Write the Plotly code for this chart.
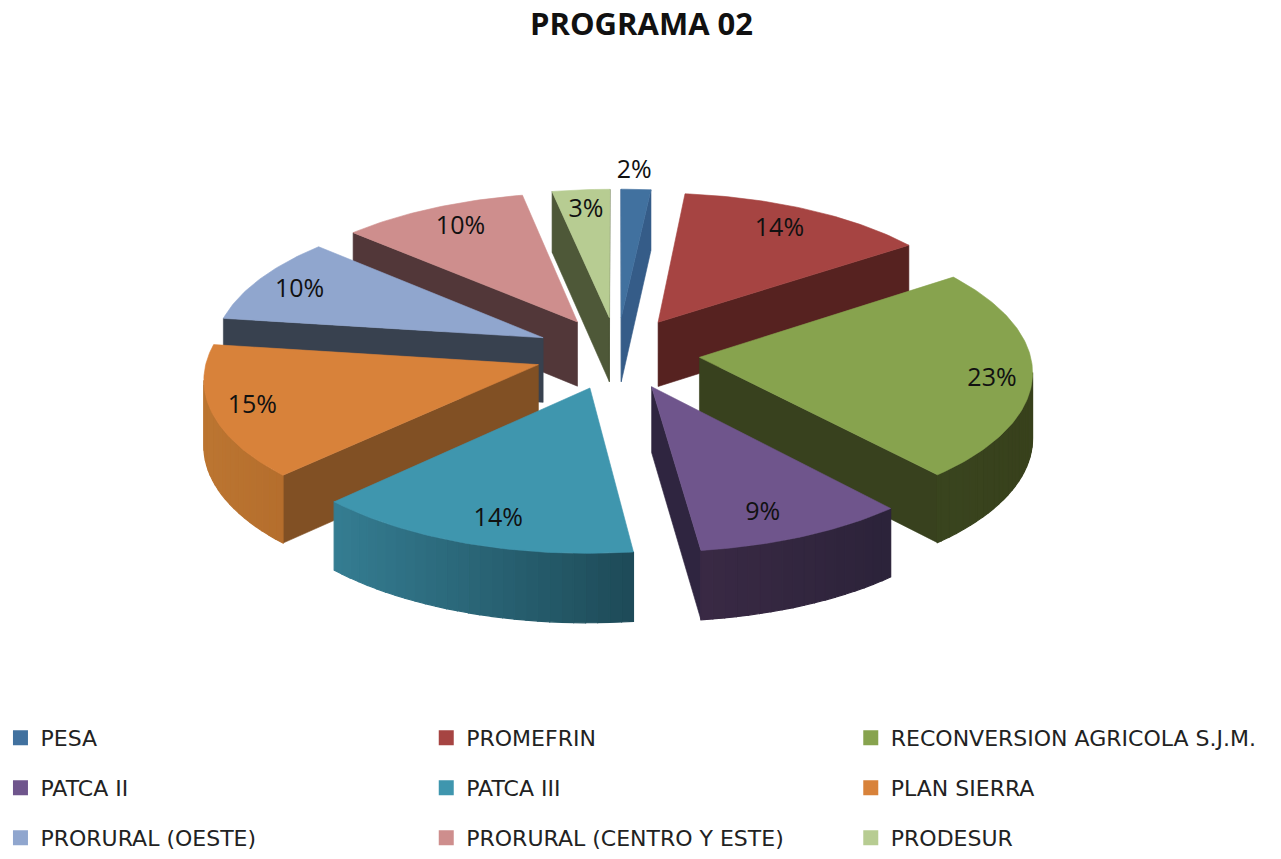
import numpy as np
import plotly.graph_objects as go

# ---- data (unrounded shares; labels show them rounded) ----
categories = ["PESA", "PROMEFRIN", "RECONVERSION AGRICOLA S.J.M.", "PATCA II", "PATCA III",
              "PLAN SIERRA", "PRORURAL (OESTE)", "PRORURAL (CENTRO Y ESTE)", "PRODESUR"]
values = [1.6, 13.6, 23.4, 9.4, 14.49, 14.7, 9.6, 10.1, 3.1]
top_colors = ["#41719F", "#A64442", "#87A34E", "#6F558C", "#3F96AE",
              "#D8823A", "#90A6CE", "#CE8E8D", "#B7CC92"]
face_colors = ["#355C88", "#562220", "#38411E", "#2F2540", "#225563",
               "#815024", "#38414F", "#523739", "#4E5838"]
wall_left = ["#355C88", "#562220", "#3A451F", "#3A2A45", "#357D92",
             "#BC7632", "#38414F", "#523739", "#4E5838"]
wall_right = ["#355C88", "#562220", "#38411C", "#2C233A", "#1E4B58",
              "#B56E2D", "#38414F", "#523739", "#4E5838"]
title = "PROGRAMA 02"

# ---- projection of the exploded pie ----
CX, CY = 612, 353
RX, RY = 333, 145
PERSP = 0.085
PULL = 0.25
DEPTH = 65
LABEL_R = [1.02, 0.80, 0.90, 0.72, 0.66, 0.90, 0.78, 0.80, 0.70]
LABEL_NUDGE = [(-2, -15), (0, -1), (-7, 7), (4, 22), (-14, 32), (7, -1), (-21, -1), (1, -2), (-3, -15)]
DRAW_ORDER = [0, 8, 7, 1, 6, 2, 5, 3, 4]
FONT = "Open Sans, Lato, sans-serif"


def project(u, v, drop=0.0):
    s = 1.0 / (1 + PERSP * v)
    return CX + RX * u * s, CY - RY * v * s + drop * (1 - 0.055 * v)


def rgb(hexs):
    return np.array([int(hexs[i:i + 2], 16) for i in (1, 3, 5)], float)


def mix(a, b, t):
    c = rgb(a) * (1 - t) + rgb(b) * t
    return "rgb(%d,%d,%d)" % tuple(c)


total = sum(values)
edges = np.concatenate([[0], np.cumsum(values)]) / total * 2 * np.pi

fig = go.Figure()


def poly(xs, ys, color, name=None, width=0.6):
    fig.add_trace(go.Scatter(x=list(xs), y=list(ys), mode="lines", fill="toself",
                             fillcolor=color, line=dict(color=color, width=width),
                             hoverinfo="skip" if name is None else "text",
                             text=name, showlegend=False))


for i in DRAW_ORDER:
    a0, a1 = edges[i], edges[i + 1]
    mid = (a0 + a1) / 2
    pu, pv = PULL * np.sin(mid), PULL * np.cos(mid)
    th = np.linspace(a0, a1, max(int(values[i] * 4), 8))
    au, av = pu + np.sin(th), pv + np.cos(th)
    tx, ty = project(pu, pv)
    tbx, tby = project(pu, pv, DEPTH)
    ax, ay = project(au, av)
    bx, by = project(au, av, DEPTH)

    # tip -> arc start face, visible when it runs to the left
    if ax[0] < tx:
        poly([tx, ax[0], bx[0], tbx, tx], [ty, ay[0], by[0], tby, ty], face_colors[i])
    # arc end -> tip face
    if tx < ax[-1]:
        poly([tx, ax[-1], bx[-1], tbx, tx], [ty, ay[-1], by[-1], tby, ty], face_colors[i])
    # outer wall, in shaded bands running left to right
    vis = [k for k in range(len(th) - 1) if ax[k + 1] < ax[k]]
    if len(vis) > 1:
        vis = vis + [vis[-1] + 1]
        lo, hi = ax[vis].min(), ax[vis].max()
        for j in range(0, len(vis) - 1, 2):
            k = vis[j:j + 3]
            t = (ax[k].mean() - lo) / max(hi - lo, 1)
            c = mix(wall_left[i], wall_right[i], t)
            poly(np.r_[ax[k], bx[k][::-1], ax[k][0]], np.r_[ay[k], by[k][::-1], ay[k][0]], c, width=1.2)
    # top surface
    poly(np.r_[tx, ax, tx], np.r_[ty, ay, ty], top_colors[i],
         f"{categories[i]}: {values[i]:.0f}%")

# percentage labels
lab_x, lab_y, lab_t = [], [], []
for i in range(len(values)):
    mid = (edges[i] + edges[i + 1]) / 2
    r = LABEL_R[i] + PULL
    lx, ly = project(r * np.sin(mid), r * np.cos(mid))
    lab_x.append(lx + LABEL_NUDGE[i][0])
    lab_y.append(ly + LABEL_NUDGE[i][1])
    lab_t.append(f"{values[i]:.0f}%")
fig.add_trace(go.Scatter(x=lab_x, y=lab_y, mode="text", text=lab_t, showlegend=False,
                         hoverinfo="skip",
                         textfont=dict(family=FONT, size=25, color="#111111")))

# legend: one Plotly legend per cell of the 3 x 3 grid
legend_names = ["legend"] + [f"legend{n}" for n in range(2, 10)]
COL_X = [-0.0075, 0.3275, 0.6615]
ROW_Y = [738, 788, 838]
LEG_FONT = dict(family="DejaVu Sans, Open Sans, sans-serif", size=22, color="#222222")
legends = {}
for i, (cat, col) in enumerate(zip(categories, top_colors)):
    fig.add_trace(go.Scatter(x=[None], y=[None], mode="markers", name=cat,
                             marker=dict(symbol="square", size=15, color=col),
                             legend=legend_names[i]))
    legends[legend_names[i]] = dict(
        x=COL_X[i % 3], xanchor="left", y=1 - ROW_Y[i // 3] / 859, yanchor="middle",
        itemwidth=30, font=LEG_FONT, bgcolor="rgba(0,0,0,0)",
        itemclick=False, itemdoubleclick=False)

fig.update_layout(
    width=1281, height=859, autosize=False,
    margin=dict(l=0, r=0, t=0, b=0),
    paper_bgcolor="white", plot_bgcolor="white",
    xaxis=dict(range=[0, 1281], visible=False, fixedrange=True),
    yaxis=dict(range=[859, 0], visible=False, fixedrange=True),
    annotations=[dict(text="<b>" + title + "</b>", x=636, y=23, xref="x", yref="y", showarrow=False,
                      font=dict(family=FONT, size=31, color="#111111"))],
    **legends,
)

fig.write_html("out.html", config=dict(displayModeBar=False),
               post_script="document.body.style.margin='0';")
